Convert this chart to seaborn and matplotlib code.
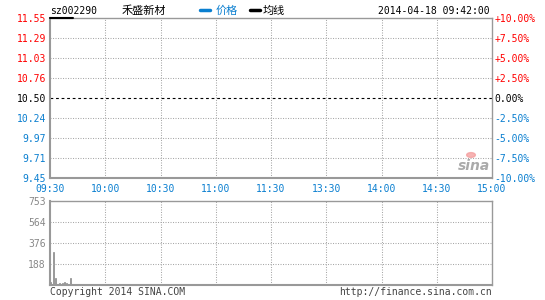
import matplotlib
matplotlib.use("Agg")
import matplotlib.pyplot as plt
import seaborn as sns
import numpy as np
import pandas as pd

# ---- data ----
symbol = "sz002290"
name = "禾盛新材"
timestamp = "2014-04-18 09:42:00"
price_labels = ["9.45", "9.71", "9.97", "10.24", "10.50", "10.76", "11.03", "11.29", "11.55"]
pct_values = [-10.0, -7.5, -5.0, -2.5, 0.0, 2.5, 5.0, 7.5, 10.0]
pct_labels = ["-10.00%", "-7.50%", "-5.00%", "-2.50%", "0.00%", "+2.50%", "+5.00%", "+7.50%", "+10.00%"]
time_minutes = [0, 30, 60, 90, 120, 150, 180, 210, 240]
time_labels = ["09:30", "10:00", "10:30", "11:00", "11:30", "13:30", "14:00", "14:30", "15:00"]
vol_ticks = [188, 376, 564, 753]
vol_minutes = [0, 2, 3, 5, 7, 8, 9, 10, 11]
vol_values = [25, 295, 62, 15, 20, 25, 20, 10, 62]

RED = "#ff0000"
BLUE = "#0a7fd0"
GRAY_AX = "#999999"
GRID = "#a8a8a8"

sns.set_theme(style="white")
plt.rcParams["font.family"] = ["DejaVu Sans Mono", "Noto Sans CJK SC"]

W, H = 545, 300
fig = plt.figure(figsize=(W / 100, H / 100), dpi=100)

def fx(px):
    return px / W

def fy(py):
    return 1 - py / H

DOT = (0, (1, 1.4))

# price panel: x 50..492, y 18..178
ax = fig.add_axes([fx(50), fy(178), fx(442), (178 - 18) / H])
# volume panel: x 50..492, y 201..285
axv = fig.add_axes([fx(50), fy(285), fx(442), (285 - 201) / H])

for a in (ax, axv):
    a.set_facecolor("white")
    a.grid(False)
    for s in a.spines.values():
        s.set_color(GRAY_AX)
        s.set_linewidth(1.0)
    a.spines["left"].set_linewidth(1.5)
    a.spines["bottom"].set_linewidth(1.5)

# price axis
ax.set_xlim(0, 240)
ax.set_ylim(-10, 10)
ax.set_yticks(pct_values)
ax.set_yticklabels(price_labels)
ax.set_xticks(time_minutes)
ax.set_xticklabels(time_labels)
ax.tick_params(axis="both", length=0, labelsize=7, pad=3)
ax.tick_params(axis="x", colors=BLUE, pad=4)
for lbl, v in zip(ax.get_yticklabels(), pct_values):
    lbl.set_color(RED if v > 0 else (BLUE if v < 0 else "black"))

for v in pct_values[1:-1]:
    if v == 0:
        continue
    ax.axhline(v, color=GRID, lw=0.75, ls=DOT)
for m in time_minutes[1:-1]:
    ax.axvline(m, color=GRID, lw=0.75, ls=DOT)
ax.axhline(0, color="black", lw=0.8, ls=(0, (2.5, 2.5)))

axr = ax.twinx()
axr.set_ylim(-10, 10)
axr.set_yticks(pct_values)
axr.set_yticklabels(pct_labels)
axr.tick_params(axis="y", length=0, labelsize=7, pad=2)
for lbl, v in zip(axr.get_yticklabels(), pct_values):
    lbl.set_color(RED if v > 0 else (BLUE if v < 0 else "black"))
for s in axr.spines.values():
    s.set_visible(False)
axr.grid(False)

# volume bars
df = pd.DataFrame({"minute": vol_minutes, "volume": vol_values})
sns.barplot(data=df, x="minute", y="volume", native_scale=True, width=0.6,
            color="#8a8a8a", saturation=1, ax=axv, linewidth=0.5, edgecolor="#8a8a8a")
axv.set_xlim(0, 240)
axv.set_ylim(0, 753)
axv.set_xlabel("")
axv.set_ylabel("")
axv.set_xticks([])
axv.set_yticks(vol_ticks)
axv.set_yticklabels([str(v) for v in vol_ticks])
axv.tick_params(axis="y", length=0, labelsize=7, pad=3, colors="#888888")
for v in vol_ticks[:-1]:
    axv.axhline(v, color=GRID, lw=0.75, ls=DOT)
for m in time_minutes[1:-1]:
    axv.axvline(m, color=GRID, lw=0.75, ls=DOT)

# header
fig.text(fx(50), fy(11), symbol, fontsize=7, color="black", va="center", ha="left")
fig.add_artist(plt.Line2D([fx(50), fx(73)], [fy(17.5), fy(17.5)], color="black", lw=1.5))
fig.text(fx(144), fy(11), name, fontsize=8, color="black", va="center", ha="center")
fig.add_artist(plt.Line2D([fx(200), fx(210)], [fy(10), fy(10)], color=BLUE, lw=2.5))
fig.text(fx(216), fy(11), "价格", fontsize=8, color=BLUE, va="center", ha="left")
fig.add_artist(plt.Line2D([fx(250), fx(260)], [fy(10), fy(10)], color="black", lw=2.5))
fig.text(fx(263), fy(11), "均线", fontsize=8, color="black", va="center", ha="left")
fig.text(fx(490), fy(11), timestamp, fontsize=7, color="black", va="center", ha="right")

# footer
fig.text(fx(50), fy(292), "Copyright 2014 SINA.COM", fontsize=7, color="#444444", va="center", ha="left")
fig.text(fx(492), fy(292), "http://finance.sina.com.cn", fontsize=7, color="#444444", va="center", ha="right")

# watermark
fig.text(fx(474), fy(166), "sina", fontsize=10, color="#aaaaaa", style="italic",
         weight="bold", family="DejaVu Sans", va="center", ha="center")
fig.add_artist(matplotlib.patches.Circle((fx(471), fy(155)), 0.008, transform=fig.transFigure,
                                         color="#f4a0a0", alpha=0.8))

fig.savefig("out.png", dpi=100, facecolor="white")
